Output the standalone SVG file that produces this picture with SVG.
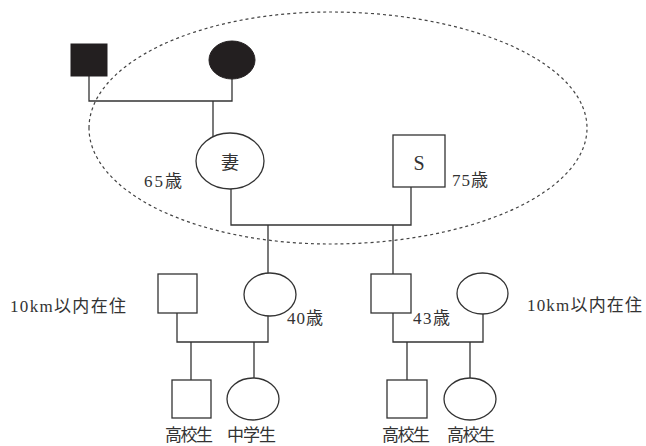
<svg xmlns="http://www.w3.org/2000/svg" width="646" height="446" viewBox="0 0 646 446">
<style>
.ln{fill:none;stroke:#333;stroke-width:1.3}
.nd{fill:#fff;stroke:#333;stroke-width:1.3}
.bk{fill:#231f20;stroke:#231f20;stroke-width:1}
.t{font-family:"Liberation Serif","Noto Sans CJK JP",serif;font-size:17px;fill:#333}
.c{text-anchor:middle}
</style>
<rect width="646" height="446" fill="#fff"/>
<g id="household">
<path d="M89,128 A241,116 0 0 1 330,12 A257,116 0 0 1 587,128 A257,116 0 0 1 330,244 A241,116 0 0 1 89,128 Z" fill="none" stroke="#444" stroke-width="1.2" stroke-dasharray="3,3"/>
</g>
<g id="connectors">
<path class="ln" d="M89,76 V101 H232 V79 M213,101 V137"/>
<path class="ln" d="M231,189 V225 H411 V187 M268,225 V273 M393,225 V274"/>
<path class="ln" d="M177,313 V342 H268 V316 M191,342 V380 M254,342 V378"/>
<path class="ln" d="M393,313 V342 H483 V314 M407,342 V380 M470,342 V378"/>
</g>
<g id="gf"><rect class="bk" x="71" y="44" width="36" height="32"/></g>
<g id="gm"><ellipse class="bk" cx="232" cy="60" rx="23" ry="19"/></g>
<g id="wife"><ellipse class="nd" cx="230" cy="161" rx="34" ry="28"/><text class="t c" x="230" y="169" style="font-size:18px">妻</text><text class="t" x="144" y="186.5" textLength="38" lengthAdjust="spacing">65歳</text></g>
<g id="s"><rect class="nd" x="393" y="135" width="52" height="52"/><text class="t c" x="419" y="169.5" style="font-size:20px">S</text><text class="t" x="452" y="185.5" textLength="36" lengthAdjust="spacing">75歳</text></g>
<g id="sonInLaw"><rect class="nd" x="158" y="274" width="39" height="39"/><text class="t" x="10" y="312" textLength="116" lengthAdjust="spacing">10km以内在住</text></g>
<g id="daughter"><ellipse class="nd" cx="270" cy="294.5" rx="26" ry="21.5"/><text class="t" x="287" y="324" textLength="36" lengthAdjust="spacing">40歳</text></g>
<g id="son"><rect class="nd" x="371" y="274" width="40" height="39"/><text class="t" x="413" y="323.5" textLength="37" lengthAdjust="spacing">43歳</text></g>
<g id="sonWife"><ellipse class="nd" cx="482.5" cy="293.5" rx="25.5" ry="20.5"/><text class="t" x="527" y="311" textLength="115" lengthAdjust="spacing">10km以内在住</text></g>
<g id="gc1"><rect class="nd" x="172" y="380" width="39" height="38"/><text class="t" x="165" y="441" textLength="48" lengthAdjust="spacing">高校生</text></g>
<g id="gc2"><ellipse class="nd" cx="253" cy="399" rx="26" ry="21"/><text class="t" x="227" y="441" textLength="49" lengthAdjust="spacing">中学生</text></g>
<g id="gc3"><rect class="nd" x="387" y="380" width="40" height="38"/><text class="t" x="382" y="441" textLength="48" lengthAdjust="spacing">高校生</text></g>
<g id="gc4"><ellipse class="nd" cx="470" cy="399" rx="26" ry="21"/><text class="t" x="447" y="441" textLength="48" lengthAdjust="spacing">高校生</text></g>
</svg>
